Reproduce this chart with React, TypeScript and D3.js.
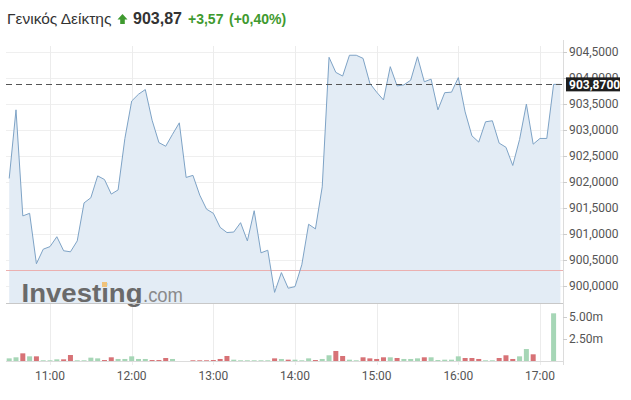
import React from 'react';
import * as d3 from 'd3';

// 5-minute intraday session
const START = '10:30';
const END = '17:15';
const STEP_MIN = 5;

const prices = [
  902.06, 903.38, 901.34, 901.39, 900.42, 900.70, 900.75, 900.94, 900.67, 900.65,
  900.86, 901.59, 901.69, 902.11, 902.04, 901.76, 901.84, 902.83, 903.55, 903.68,
  903.77, 903.18, 902.75, 902.68, 902.91, 903.13, 902.08, 902.12, 901.74, 901.47,
  901.39, 901.12, 901.02, 901.03, 901.21, 900.86, 901.44, 900.63, 900.68, 899.87,
  900.25, 899.95, 899.98, 900.40, 901.18, 901.09, 901.90, 904.39, 904.10, 904.03,
  904.43, 904.43, 904.37, 903.89, 903.72, 903.57, 904.21, 903.84, 903.86, 903.95,
  904.40, 903.92, 903.97, 903.38, 903.71, 903.72, 904.00, 903.34, 902.88, 902.76,
  903.15, 903.17, 902.74, 902.66, 902.31, 902.81, 903.49, 902.72, 902.83, 902.83,
  903.87, 903.87,
];

// volume in millions
const volumes = [
  0.30, 0.42, 0.87, 0.53, 0.53, 0.08, 0.08, 0.19, 0.19, 0.68,
  0.08, 0.08, 0.38, 0.30, 0.11, 0.42, 0.23, 0.23, 0.53, 0.23,
  0.23, 0.11, 0.11, 0.34, 0.23, 0, 0, 0.08, 0.08, 0.08,
  0.11, 0.23, 0.57, 0.15, 0.08, 0.08, 0.08, 0.08, 0.08, 0.30,
  0.23, 0.15, 0.15, 0.08, 0.30, 0.11, 0.23, 0.65, 1.14, 0.57,
  0.15, 0.08, 0.42, 0.30, 0.23, 0.42, 0.42, 0.34, 0.23, 0.23,
  0.30, 0.42, 0.42, 0.11, 0.15, 0.15, 0.53, 0.34, 0.34, 0.23,
  0.08, 0.08, 0.34, 0.65, 0.23, 0.53, 1.36, 0.76, 0, 0,
  5.42, 0,
];

// u = up bar (green), d = down bar (red)
const volumeDir = [
  'u', 'u', 'd', 'u', 'd', 'u', 'u', 'u', 'd', 'd',
  'u', 'u', 'u', 'u', 'd', 'd', 'u', 'u', 'u', 'u',
  'u', 'd', 'd', 'd', 'u', 'u', 'u', 'd', 'd', 'd',
  'd', 'd', 'd', 'u', 'u', 'u', 'u', 'u', 'u', 'd',
  'u', 'd', 'u', 'u', 'u', 'd', 'u', 'u', 'd', 'd',
  'u', 'u', 'd', 'd', 'd', 'd', 'u', 'd', 'u', 'u',
  'u', 'd', 'u', 'u', 'u', 'u', 'u', 'd', 'd', 'd',
  'u', 'u', 'd', 'd', 'd', 'u', 'u', 'd', 'u', 'u',
  'u', 'u',
];

const priceTicks = [900, 900.5, 901, 901.5, 902, 902.5, 903, 903.5, 904, 904.5];
const volumeTicks = [2.5, 5];
const hourTicks = ['11:00', '12:00', '13:00', '14:00', '15:00', '16:00', '17:00'];

const TITLE = 'Γενικός Δείκτης';
const LAST = 903.87;
const CHANGE = 3.57;
const CHANGE_PCT = 0.4;
const PREV_CLOSE = LAST - CHANGE;

const fmtGr = (v: number, digits: number) => v.toFixed(digits).replace('.', ',');

const App = () => {
  const W = 631;
  const H = 400;
  const plotL = 6;
  const plotR = 563;
  const plotT = 46;
  const plotB = 303;
  const volB = 361;

  const parseTime = d3.timeParse('%H:%M');
  const t0 = parseTime(START) as Date;
  const times = prices.map((_, i) => d3.timeMinute.offset(t0, i * STEP_MIN));

  const x = d3.scaleTime().domain([t0, parseTime(END) as Date]).range([9.2, 560.4]);
  const y = d3.scaleLinear().domain([900, 904.5]).range([285.6, 51.6]);
  const yv = d3.scaleLinear().domain([0, 5]).range([volB, 317]);

  const area = d3.area<number>()
    .x((_, i) => x(times[i]))
    .y0(plotB)
    .y1((d) => y(d));
  const line = d3.line<number>()
    .x((_, i) => x(times[i]))
    .y((d) => y(d));

  const barW = 5;
  const axisFont = 'Roboto, "Liberation Sans", Arial, sans-serif';
  const headFont = '"Liberation Sans", Arial, sans-serif';
  const green = '#3f9a2f';

  return (
    <svg width={W} height={H} style={{ position: 'absolute', left: 0, top: 0, background: '#fff' }}>
      {/* header */}
      <text x={7} y={24} fontFamily={headFont} fontSize={15.5} fill="#333">{TITLE}</text>
      <path d="M122.5,14 L127.5,19.5 L124.8,19.5 L124.8,24 L120.2,24 L120.2,19.5 L117.5,19.5 Z" fill={green} />
      <text x={133} y={24} fontFamily={headFont} fontSize={16} fontWeight="bold" fill="#333">{fmtGr(LAST, 2)}</text>
      <text x={188} y={24} fontFamily={headFont} fontSize={14} fontWeight="bold" fill={green}>
        {'+' + fmtGr(CHANGE, 2)}
      </text>
      <text x={229} y={24} fontFamily={headFont} fontSize={14} fontWeight="bold" fill={green}>
        {'(+' + fmtGr(CHANGE_PCT, 2) + '%)'}
      </text>

      {/* grid */}
      {priceTicks.map((t) => (
        <line key={'h' + t} x1={plotL} x2={plotR} y1={Math.round(y(t)) + 0.5} y2={Math.round(y(t)) + 0.5} stroke="#efefef" />
      ))}
      {hourTicks.map((h) => {
        const xx = Math.round(x(parseTime(h) as Date)) + 0.5;
        return <line key={'v' + h} x1={xx} x2={xx} y1={plotT} y2={volB + 4} stroke="#ececec" />;
      })}

      {/* price area */}
      <path d={area(prices) || ''} fill="#e3ecf5" />
      <line x1={plotL} x2={plotR} y1={Math.round(y(PREV_CLOSE)) + 0.5} y2={Math.round(y(PREV_CLOSE)) + 0.5} stroke="#ebb0b0" />
      <path d={line(prices) || ''} fill="none" stroke="#7ea3c6" strokeWidth={1} />

      {/* watermark */}
      <text x={21.5} y={302} fontFamily={headFont} fontSize={26} fontWeight="bold" fill="#6a6a6a" textLength={121} lengthAdjust="spacingAndGlyphs">Investing</text>
      <text x={143} y={302} fontFamily={headFont} fontSize={21} fill="#8a8a8a" textLength={40} lengthAdjust="spacingAndGlyphs">.com</text>
      <rect x={102} y={282} width={5} height={5} fill="#f0c27a" />

      <line x1={plotL} x2={plotR} y1={plotB + 0.5} y2={plotB + 0.5} stroke="#c8c8c8" />

      {/* last price */}
      <line x1={plotL} x2={plotR} y1={Math.round(y(LAST)) + 0.5} y2={Math.round(y(LAST)) + 0.5} stroke="#555" strokeDasharray="6,4" />

      {/* volume */}
      {volumes.map((v, i) => (
        v > 0 ? (
          <rect
            key={'b' + i}
            x={x(times[i]) - barW / 2}
            y={yv(v)}
            width={barW}
            height={volB - yv(v)}
            fill={volumeDir[i] === 'u' ? '#a6d6b6' : '#d77276'}
          />
        ) : null
      ))}
      <line x1={plotL} x2={plotR} y1={volB + 0.5} y2={volB + 0.5} stroke="#dcdcdc" />

      {/* right axis */}
      <line x1={plotR + 0.5} x2={plotR + 0.5} y1={40} y2={volB + 4} stroke="#dcdcdc" />
      {priceTicks.map((t) => (
        <g key={'pl' + t}>
          <line x1={plotR} x2={plotR + 4} y1={Math.round(y(t)) + 0.5} y2={Math.round(y(t)) + 0.5} stroke="#ccc" />
          <text x={569} y={y(t) + 4} fontFamily={axisFont} fontSize={12} fill="#555">{fmtGr(t, 4)}</text>
        </g>
      ))}
      {volumeTicks.map((t) => (
        <g key={'vl' + t}>
          <line x1={plotR} x2={plotR + 4} y1={Math.round(yv(t)) + 0.5} y2={Math.round(yv(t)) + 0.5} stroke="#ccc" />
          <text x={569} y={yv(t) + 4} fontFamily={axisFont} fontSize={12} fill="#555">{t.toFixed(2) + 'm'}</text>
        </g>
      ))}
      <rect x={566} y={y(LAST) - 7} width={54} height={14} fill="#1e1e1e" />
      <text x={569} y={y(LAST) + 4.3} fontFamily={axisFont} fontSize={12} fontWeight="bold" fill="#fff">{fmtGr(LAST, 4)}</text>

      {/* time axis */}
      {hourTicks.map((h) => (
        <text key={'t' + h} x={x(parseTime(h) as Date)} y={380} textAnchor="middle" fontFamily={axisFont} fontSize={12} fill="#555">{h}</text>
      ))}
    </svg>
  );
};

export default App;
